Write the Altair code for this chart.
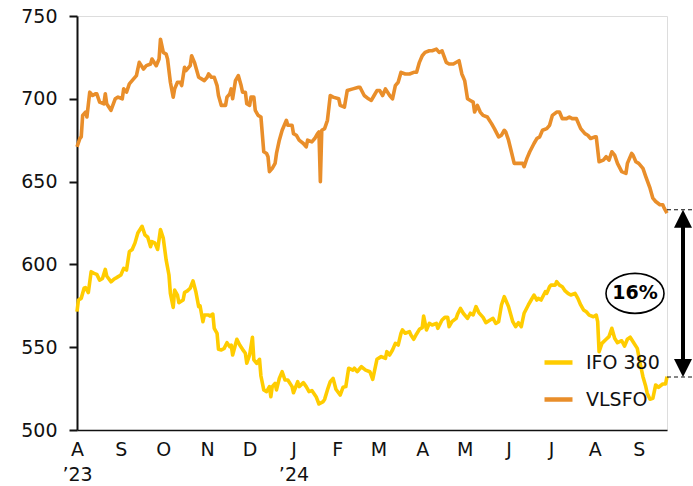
import altair as alt
import pandas as pd

# Daily bunker prices, $/tonne, indexed as days after 1 Aug 2023
START = pd.Timestamp("2023-08-01")

ifo_days = [0, 1, 3, 5, 6, 8, 10, 12, 14, 16, 18, 20, 21, 24, 26, 28, 31, 33, 35, 37,
            39, 41, 43, 46, 48, 50, 52, 53, 55, 57, 59, 61, 63, 65, 66, 68, 69, 71, 72, 75,
            76, 78, 80, 82, 84, 86, 87, 89, 90, 93, 94, 96, 97, 99, 100, 102, 104, 106, 108, 109,
            110, 113, 115, 117, 119, 120, 122, 124, 125, 127, 129, 130, 132, 134, 136, 137, 138, 140, 141, 143,
            145, 147, 149, 152, 153, 156, 157, 160, 162, 164, 166, 169, 171, 174, 175, 177, 179, 181, 183, 186,
            188, 190, 192, 195, 196, 198, 201, 204, 207, 209, 212, 215, 218, 219, 221, 223, 225, 227, 229, 230,
            232, 235, 236, 238, 240, 242, 244, 245, 247, 249, 251, 254, 255, 258, 260, 262, 263, 265, 268, 269,
            271, 273, 276, 278, 280, 282, 284, 287, 289, 292, 294, 296, 298, 300, 302, 305, 308, 310, 312, 314,
            316, 319, 321, 323, 325, 326, 328, 331, 332, 334, 335, 338, 339, 341, 343, 345, 347, 349, 352, 354,
            356, 358, 360, 362, 365, 367, 368, 369, 371, 374, 376, 378, 380, 382, 385, 387, 389, 391, 393, 396,
            398, 400, 402, 403, 405, 407, 409, 411, 414, 416, 417]
ifo_prices = [571.5, 578.5, 579.5, 585.6, 586, 583, 595.6, 594.6, 594, 590.5, 591.5, 597, 593, 589.5, 591, 592, 593.6, 597.6, 596.6, 607.7,
              609, 613, 619, 623, 617.8, 616.4, 610.7, 613.7, 613, 609, 621, 615.7, 602.7, 593.6, 582.5, 574, 584.5, 581.5, 576.9, 578.5,
              583, 584, 585.6, 590, 583.5, 574.5, 574.9, 565.4, 569.4, 569.4, 568.8, 570, 561.4, 558.4, 548.7, 548.3, 549.3, 552.7, 550.3, 551.3,
              545.3, 554.8, 551.3, 548.7, 546.3, 540.3, 545.3, 556, 542.3, 540.3, 542.7, 532.6, 524.2, 523.2, 526.2, 520.1, 526.2, 528.2, 524.2, 531.2,
              535.2, 530.2, 530.2, 526.2, 522.5, 529.2, 526.2, 528.6, 526.2, 523.2, 523.8, 520.1, 515.7, 517.1, 518.5, 524.2, 529.2, 531.2, 524.6, 521.1,
              525.8, 526.2, 537.3, 536.2, 537.3, 535.2, 538.2, 536.2, 535.2, 530.6, 542.7, 544.3, 543.3, 547.3, 545.3, 548.3, 552.3, 551.3, 558.4, 560.4,
              558.4, 559.4, 557.4, 554.8, 558, 560.8, 561.8, 568.8, 560.4, 564.4, 563.4, 564.4, 561.4, 566.4, 568, 568, 562.4, 565.4, 567.4, 570,
              573.4, 570.5, 567.4, 570.5, 569.5, 574.5, 570.9, 568, 564.8, 566.4, 567.4, 564.4, 565.4, 575.5, 580.5, 574.5, 565.4, 562.4, 564.8, 562.4,
              570.5, 575.5, 578.5, 581.5, 578.5, 579.5, 578.5, 583.5, 582.5, 586.5, 587.5, 587.5, 589.6, 587.5, 586.5, 584, 582.5, 581.5, 582.5, 579.5,
              575.5, 572.5, 571.4, 569.4, 568.4, 569.4, 565.4, 547.3, 552.3, 554.8, 556.4, 561.4, 555.4, 552.7, 553.9, 550.7, 554.8, 556, 553.3, 549.3,
              540.3, 532.2, 526.2, 522.2, 518.6, 519.1, 527.2, 525.8, 527.8, 527.8, 532.2]

vlsfo_days = [0, 2, 3, 4, 6, 7, 9, 11, 13, 14, 16, 19, 20, 21, 24, 27, 29, 32, 33, 35,
              37, 40, 42, 44, 47, 49, 52, 53, 56, 58, 59, 61, 63, 64, 66, 68, 69, 71, 73, 74,
              76, 77, 80, 81, 83, 86, 88, 90, 92, 93, 95, 97, 99, 100, 102, 105, 106, 108, 109, 110,
              112, 114, 116, 117, 119, 120, 122, 123, 125, 126, 128, 130, 132, 134, 135, 136, 138, 140, 141, 143,
              145, 148, 149, 152, 153, 155, 157, 160, 162, 163, 166, 168, 170, 171, 172, 173, 175, 177, 179, 181,
              185, 186, 189, 191, 195, 199, 200, 203, 206, 208, 210, 212, 214, 216, 218, 221, 223, 225, 227, 229,
              232, 235, 238, 240, 242, 244, 246, 249, 251, 254, 256, 258, 261, 263, 266, 270, 272, 274, 276, 278,
              280, 281, 283, 285, 287, 290, 293, 295, 298, 300, 302, 303, 305, 307, 309, 312, 315, 316, 318, 320,
              323, 325, 327, 329, 332, 334, 336, 339, 341, 343, 346, 348, 350, 353, 356, 359, 361, 363, 366, 367,
              369, 372, 374, 376, 378, 380, 382, 385, 388, 389, 392, 393, 395, 397, 400, 402, 405, 407, 409, 412,
              414, 415, 417]
vlsfo_prices = [671, 676, 677, 690, 692, 689, 704, 702, 703, 703, 698, 697, 703, 697, 693, 700, 701, 700, 706, 704,
                709, 712, 714, 722, 718, 720, 721, 724, 720, 724, 736, 728, 727, 724, 710, 701, 706, 710, 710, 708,
                719, 717, 720, 726, 722, 713, 712, 711, 713, 715, 713, 713, 708, 702, 696, 696, 701, 703, 706, 700,
                711, 714, 708, 704, 704, 697, 696, 701, 701, 693, 690, 689, 668, 667, 665, 656, 658, 661, 667, 675,
                681, 687, 684, 684, 679, 678, 675, 673, 671, 675, 674, 676, 679, 680, 650, 681, 682, 687, 702, 701,
                700, 696, 695, 705, 706, 707, 707, 702, 700, 699, 702, 705, 705, 702, 706, 702, 700, 708, 710, 716,
                715, 715, 716, 716, 722, 726, 728, 729, 729, 730, 728, 729, 722, 721, 721, 723, 715, 711, 700, 699,
                698, 692, 696, 692, 690, 689, 685, 682, 677, 678, 681, 680, 675, 668, 661, 661, 661, 659, 664, 668,
                673, 676, 677, 681, 682, 684, 690, 692, 692, 688, 688, 689, 688, 688, 682, 679, 678, 676, 677, 677,
                662, 663, 665, 663, 668, 666, 661, 656, 655, 661, 667, 666, 662, 661, 658, 653, 646, 640, 638, 636,
                636, 634, 631]

series_names = ["IFO 380", "VLSFO"]
series_colors = ["#FFCC00", "#E98E2A"]

# Month ticks from Aug 2023 to Sep 2024
tick_months = [(2023, m) for m in range(8, 13)] + [(2024, m) for m in range(1, 10)]

# Closing spread between the two grades
spread_top = 633
spread_bottom = 532
spread_pct = round((spread_top - spread_bottom) / spread_top * 100)

FONT = "DejaVu Sans"

frames = []
for name, days, prices in [("IFO 380", ifo_days, ifo_prices), ("VLSFO", vlsfo_days, vlsfo_prices)]:
    frames.append(pd.DataFrame({
        "date": START + pd.to_timedelta(days, unit="D"),
        "price": prices,
        "fuel": name,
    }))
prices_df = pd.concat(frames, ignore_index=True)

x_scale = alt.Scale(domain=[alt.DateTime(year=2023, month=8, date=1),
                            alt.DateTime(year=2024, month=9, date=21)])
y_scale = alt.Scale(domain=[500, 750], nice=False, zero=False)

label_expr = (
    "month(datum.value) == 7 && year(datum.value) == 2023 ? ['A', '\u201923'] : "
    "(month(datum.value) == 0 ? ['J', '\u201924'] : substring(timeFormat(datum.value, '%b'), 0, 1))"
)

lines = alt.Chart(prices_df).mark_line(strokeWidth=3.6, strokeJoin="round").encode(
    x=alt.X("date:T", scale=x_scale, title=None, axis=alt.Axis(
        values=[alt.DateTime(year=y, month=m, date=1) for y, m in tick_months],
        labelExpr=label_expr, ticks=False, tickSize=0, grid=False,
        labelFlush=False, labelOverlap=False, labelAlign="center", labelBaseline="top",
        labelPadding=10, labelLineHeight=25, labelFontSize=19, labelFont=FONT, labelColor="#111111",
        domainColor="#111111", domainWidth=1.5,
    )),
    y=alt.Y("price:Q", scale=y_scale, title=None, axis=alt.Axis(
        values=[500, 550, 600, 650, 700, 750], grid=False,
        tickSize=8, tickWidth=2, tickColor="#111111", domainColor="#111111", domainWidth=2,
        labelPadding=12, labelFontSize=19, labelFont=FONT, labelColor="#111111",
    )),
    color=alt.Color("fuel:N", scale=alt.Scale(domain=series_names, range=series_colors),
                    legend=alt.Legend(title=None, orient="none", legendX=465, legendY=330,
                                      symbolType="stroke", symbolSize=784, symbolStrokeWidth=4.5,
                                      labelFontSize=19, labelFont=FONT, labelColor="#111111",
                                      labelOffset=11, rowPadding=10, padding=0)),
)

ends_df = pd.DataFrame({"value": [spread_top, spread_bottom]})
span_df = pd.DataFrame({"top": [spread_top], "bottom": [spread_bottom],
                        "mid": [(spread_top + spread_bottom) / 2],
                        "label": [f"{spread_pct}%"]})

dashes = alt.Chart(ends_df).mark_rule(strokeDash=[4, 3], strokeWidth=1.2, color="#111111").encode(
    y=alt.Y("value:Q", scale=y_scale), x=alt.value(590), x2=alt.value(616))

shaft = alt.Chart(span_df).mark_rule(strokeWidth=4, color="#000000", yOffset=12, y2Offset=-12).encode(
    y=alt.Y("top:Q", scale=y_scale), y2="bottom:Q", x=alt.value(606))

head_up = alt.Chart(span_df).mark_point(shape="M0,0L-1,2L1,2Z", size=324, filled=True,
                                        color="#000000", opacity=1).encode(
    y=alt.Y("top:Q", scale=y_scale), x=alt.value(606))

head_down = alt.Chart(span_df).mark_point(shape="M0,0L-1,-2L1,-2Z", size=324, filled=True,
                                          color="#000000", opacity=1).encode(
    y=alt.Y("bottom:Q", scale=y_scale), x=alt.value(606))

ring = alt.Chart(span_df).mark_point(shape="M-1,0A1,0.69,0,1,1,1,0A1,0.69,0,1,1,-1,0Z", size=3364,
                                     filled=False, color="#000000", strokeWidth=1.6, opacity=1).encode(
    y=alt.Y("mid:Q", scale=y_scale), x=alt.value(558))

ring_text = alt.Chart(span_df).mark_text(font=FONT, fontSize=19, fontWeight="bold", color="#000000",
                                         align="center", baseline="middle").encode(
    y=alt.Y("mid:Q", scale=y_scale), x=alt.value(558), text="label:N")

chart = alt.layer(lines, dashes, shaft, head_up, head_down, ring, ring_text).properties(
    width=590, height=414,
    autosize=alt.AutoSizeParams(type="none"),
    padding={"left": 77, "top": 16, "right": 26, "bottom": 56},
).configure_view(stroke=None).configure(background="white")

chart.save("out.html", embed_options={"renderer": "svg", "actions": False})
